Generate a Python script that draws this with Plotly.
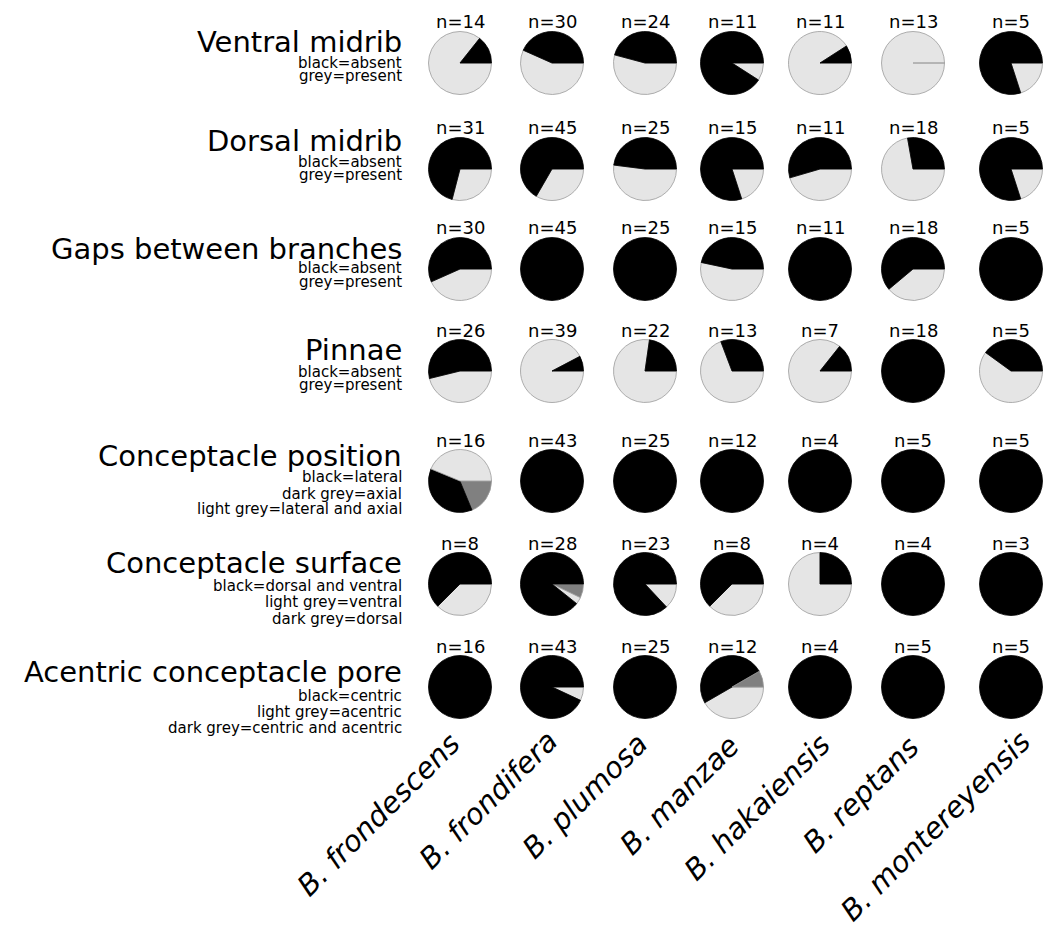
import plotly.graph_objects as go

W, H = 1043, 927

species = ["B. frondescens", "B. frondifera", "B. plumosa", "B. manzae",
           "B. hakaiensis", "B. reptans", "B. montereyensis"]

traits = ["Ventral midrib", "Dorsal midrib", "Gaps between branches", "Pinnae",
          "Conceptacle position", "Conceptacle surface", "Acentric conceptacle pore"]

trait_keys = [
    ["black=absent", "grey=present"],
    ["black=absent", "grey=present"],
    ["black=absent", "grey=present"],
    ["black=absent", "grey=present"],
    ["black=lateral", "dark grey=axial", "light grey=lateral and axial"],
    ["black=dorsal and ventral", "light grey=ventral", "dark grey=dorsal"],
    ["black=centric", "light grey=acentric", "dark grey=centric and acentric"],
]

# sample sizes (n) per trait row, per species
n_ventral = [14, 30, 24, 11, 11, 13, 5]
n_dorsal = [31, 45, 25, 15, 11, 18, 5]
n_gaps = [30, 45, 25, 15, 11, 18, 5]
n_pinnae = [26, 39, 22, 13, 7, 18, 5]
n_position = [16, 43, 25, 12, 4, 5, 5]
n_surface = [8, 28, 23, 8, 4, 4, 3]
n_pore = [16, 43, 25, 12, 4, 5, 5]

# counts per category (black / light grey / dark grey)
ventral_black = [2, 13, 11, 10, 1, 0, 4]
ventral_light = [12, 17, 13, 1, 10, 13, 1]

dorsal_black = [22, 30, 12, 12, 6, 5, 4]
dorsal_light = [9, 15, 13, 3, 5, 13, 1]

gaps_black = [17, 45, 25, 7, 11, 11, 5]
gaps_light = [13, 0, 0, 8, 0, 7, 0]

pinnae_black = [14, 3, 5, 4, 1, 18, 2]
pinnae_light = [12, 36, 17, 9, 6, 0, 3]

position_light = [7, 0, 0, 0, 0, 0, 0]
position_black = [6, 43, 25, 12, 4, 5, 5]
position_dark = [3, 0, 0, 0, 0, 0, 0]

surface_black = [5, 25, 20, 5, 1, 4, 3]
surface_light = [3, 1, 3, 3, 3, 0, 0]
surface_dark = [0, 2, 0, 0, 0, 0, 0]

pore_dark = [0, 0, 0, 1, 0, 0, 0]
pore_black = [16, 40, 25, 6, 4, 5, 5]
pore_light = [0, 3, 0, 5, 0, 0, 0]

BLACK, LIGHT, DARK = "#000000", "#e5e5e5", "#808080"
EDGE = "#9a9a9a"

# slice order per row (counter-clockwise from 3 o'clock)
rows = [
    (n_ventral, [(ventral_black, BLACK), (ventral_light, LIGHT)]),
    (n_dorsal, [(dorsal_black, BLACK), (dorsal_light, LIGHT)]),
    (n_gaps, [(gaps_black, BLACK), (gaps_light, LIGHT)]),
    (n_pinnae, [(pinnae_black, BLACK), (pinnae_light, LIGHT)]),
    (n_position, [(position_light, LIGHT), (position_black, BLACK), (position_dark, DARK)]),
    (n_surface, [(surface_black, BLACK), (surface_light, LIGHT), (surface_dark, DARK)]),
    (n_pore, [(pore_dark, DARK), (pore_black, BLACK), (pore_light, LIGHT)]),
]

# layout (pixel positions)
col_x = [460, 552, 645, 732, 820, 913, 1011]
row_y = [63, 169, 269, 371, 481, 584, 687]
R = 31.5
title_base = [51, 150, 258, 359, 465, 572, 681]
key_base = [[68, 81], [167, 180], [273, 287], [377, 390],
            [482, 499, 514], [591, 607, 624], [701, 717, 733]]
label_corner = [(469, 724), (567, 721), (657, 724), (749, 726),
                (840, 724), (928, 727), (1040, 722)]

FONT = "DejaVu Sans"


def px(x):
    return x / W


def py(y):
    return 1 - y / H


fig = go.Figure()
annotations = []

for ri, (ns, slices) in enumerate(rows):
    for ci in range(len(species)):
        vals = [s[0][ci] for s in slices]
        cols = [s[1] for s in slices]
        lcol, lw = [], []
        for v, c in zip(vals, cols):
            if c == BLACK and v > 0:
                lcol.append(BLACK); lw.append(0.8)
            elif v == 0 and c != BLACK:
                lcol.append(EDGE); lw.append(0)
            else:
                lcol.append(EDGE); lw.append(0.8)
        cx, cy = col_x[ci], row_y[ri]
        fig.add_trace(go.Pie(
            values=vals[::-1],
            labels=[f"s{k}" for k in range(len(vals))][::-1],
            marker=dict(colors=cols[::-1], line=dict(color=lcol[::-1], width=lw[::-1])),
            sort=False,
            direction="clockwise",
            rotation=90,
            textinfo="none",
            hoverinfo="skip",
            showlegend=False,
            domain=dict(x=[px(cx - R), px(cx + R)], y=[py(cy + R), py(cy - R)]),
        ))
        annotations.append(dict(
            x=px(cx), y=py(cy - 41), xref="paper", yref="paper",
            text=f"n={ns[ci]}", showarrow=False, xanchor="center", yanchor="middle",
            font=dict(family=FONT, size=18, color="#000000"),
        ))

for ri, t in enumerate(traits):
    annotations.append(dict(
        x=px(404), y=py(title_base[ri] - 9), xref="paper", yref="paper",
        text=t, showarrow=False, xanchor="right", yanchor="middle",
        font=dict(family=FONT, size=29, color="#000000"),
    ))
    for li, k in enumerate(trait_keys[ri]):
        annotations.append(dict(
            x=px(404), y=py(key_base[ri][li] - 5), xref="paper", yref="paper",
            text=k, showarrow=False, xanchor="right", yanchor="middle",
            font=dict(family=FONT, size=15, color="#000000"),
        ))

for ci, s in enumerate(species):
    x, y = label_corner[ci]
    annotations.append(dict(
        x=px(x), y=py(y), xref="paper", yref="paper",
        text=s, showarrow=False, xanchor="right", yanchor="top", textangle=-45,
        font=dict(family=FONT, size=29, color="#000000", style="italic"),
    ))

fig.update_layout(
    width=W, height=H,
    margin=dict(l=0, r=0, t=0, b=0),
    paper_bgcolor="#ffffff", plot_bgcolor="#ffffff",
    annotations=annotations,
)

fig.write_html("out.html",
               config={"displayModeBar": False},
               post_script="document.body.style.margin='0';document.body.style.overflow='hidden';")
